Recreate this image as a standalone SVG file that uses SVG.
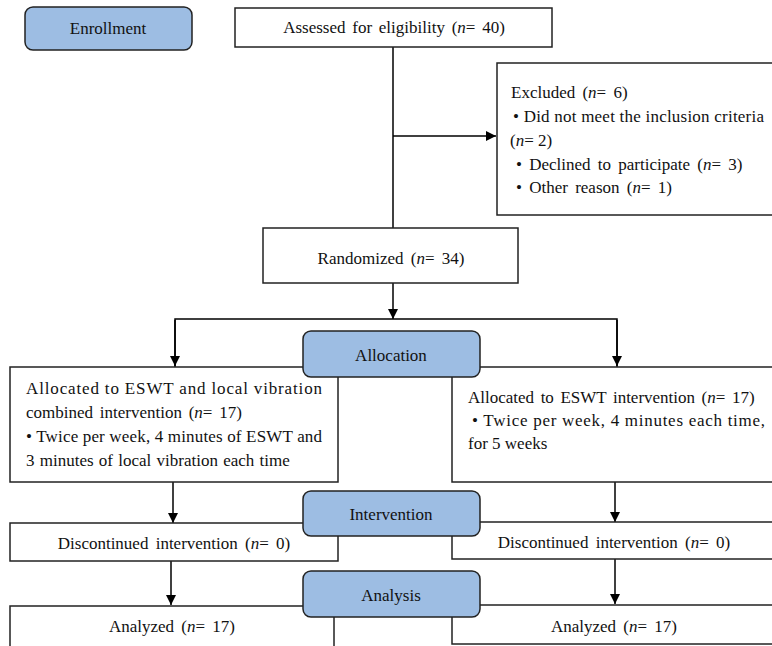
<svg xmlns="http://www.w3.org/2000/svg" width="772" height="646" viewBox="0 0 772 646">
<defs>
<marker id="ah" viewBox="0 0 10 10" refX="10" refY="5" markerWidth="10" markerHeight="10" markerUnits="userSpaceOnUse" orient="auto">
<path d="M0,0 L10,5 L0,10 z" fill="#000"/>
</marker>
<style>
text{font-family:Liberation Serif,Tinos,Times New Roman,DejaVu Serif,serif;font-size:17px;fill:#111}
.c{text-anchor:middle}
.box{fill:#fff;stroke:#222;stroke-width:1.5}
.stage{fill:#9dbde3;stroke:#222;stroke-width:1.5}
.ln{stroke:#000;stroke-width:1.5;fill:none}
.ar{stroke:#000;stroke-width:1.5;fill:none;marker-end:url(#ah)}
</style>
</defs>
<rect width="772" height="646" fill="#fff"/>
<g id="connectors">
<line class="ln" x1="393" y1="47" x2="393" y2="228"/>
<line class="ar" x1="393" y1="136" x2="496" y2="136"/>
<line class="ar" x1="393" y1="283" x2="393" y2="319"/>
<polyline class="ln" points="175,367 175,319 617,319 617,367"/>
<line class="ar" x1="175" y1="320" x2="175" y2="366"/>
<line class="ar" x1="617" y1="320" x2="617" y2="366"/>
<line class="ar" x1="173" y1="482" x2="173" y2="523"/>
<line class="ar" x1="615" y1="482" x2="615" y2="522"/>
<line class="ar" x1="171" y1="561" x2="171" y2="605"/>
<line class="ar" x1="615" y1="559" x2="615" y2="604"/>
</g>
<g id="assessed">
<rect class="box" x="235" y="8" width="317" height="39"/>
<text class="c" x="394" y="33" word-spacing="2.5">Assessed for eligibility (<tspan font-style="italic">n</tspan>= 40)</text>
</g>
<g id="excluded">
<rect class="box" x="497" y="63" width="280" height="152"/>
<text x="511" y="98" word-spacing="3">Excluded (<tspan font-style="italic">n</tspan>= 6)</text>
<text x="513" y="122" textLength="251" lengthAdjust="spacing">• Did not meet the inclusion criteria</text>
<text x="510" y="146">(<tspan font-style="italic">n</tspan>= 2)</text>
<text x="516" y="170" word-spacing="3">• Declined to participate (<tspan font-style="italic">n</tspan>= 3)</text>
<text x="516" y="193" word-spacing="3">• Other reason (<tspan font-style="italic">n</tspan>= 1)</text>
</g>
<g id="randomized">
<rect class="box" x="263" y="228" width="255" height="55"/>
<text class="c" x="391" y="264" word-spacing="3">Randomized (<tspan font-style="italic">n</tspan>= 34)</text>
</g>
<g id="alloc-left">
<rect class="box" x="10" y="367" width="328" height="115"/>
<text x="26" y="394" textLength="296" lengthAdjust="spacing">Allocated to ESWT and local vibration</text>
<text x="26" y="418" word-spacing="2.5">combined intervention (<tspan font-style="italic">n</tspan>= 17)</text>
<text x="26" y="442" textLength="296" lengthAdjust="spacing">• Twice per week, 4 minutes of ESWT and</text>
<text x="26" y="466" word-spacing="1">3 minutes of local vibration each time</text>
</g>
<g id="alloc-right">
<rect class="box" x="452" y="367" width="325" height="115"/>
<text x="468" y="403" word-spacing="2.3">Allocated to ESWT intervention (<tspan font-style="italic">n</tspan>= 17)</text>
<text x="472" y="426" textLength="293" lengthAdjust="spacing">• Twice per week, 4 minutes each time,</text>
<text x="468" y="449">for 5 weeks</text>
</g>
<g id="disc-left">
<rect class="box" x="10" y="523" width="328" height="38"/>
<text class="c" x="174" y="549" word-spacing="3">Discontinued intervention (<tspan font-style="italic">n</tspan>= 0)</text>
</g>
<g id="disc-right">
<rect class="box" x="452" y="522" width="325" height="37"/>
<text class="c" x="614" y="548" word-spacing="3">Discontinued intervention (<tspan font-style="italic">n</tspan>= 0)</text>
</g>
<g id="analyzed-left">
<rect class="box" x="10" y="606" width="324" height="45"/>
<text class="c" x="172" y="632" word-spacing="3">Analyzed (<tspan font-style="italic">n</tspan>= 17)</text>
</g>
<g id="analyzed-right">
<rect class="box" x="452" y="605" width="325" height="39"/>
<text class="c" x="614" y="632" word-spacing="3">Analyzed (<tspan font-style="italic">n</tspan>= 17)</text>
</g>
<g id="enrollment">
<rect class="stage" x="25" y="7" width="167" height="43" rx="8"/>
<text class="c" x="108" y="34">Enrollment</text>
</g>
<g id="allocation">
<rect class="stage" x="303" y="331" width="177" height="46" rx="8"/>
<text class="c" x="391" y="361">Allocation</text>
</g>
<g id="intervention">
<rect class="stage" x="303" y="491" width="177" height="45" rx="8"/>
<text class="c" x="391" y="520">Intervention</text>
</g>
<g id="analysis">
<rect class="stage" x="303" y="571" width="177" height="46" rx="8"/>
<text class="c" x="391" y="601">Analysis</text>
</g>
</svg>
